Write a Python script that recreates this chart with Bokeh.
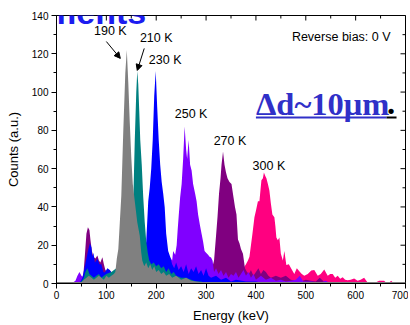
from bokeh.plotting import figure
from bokeh.models import SingleIntervalTicker, Label, Arrow, NormalHead, Range1d
from bokeh.embed import file_html
from bokeh.resources import INLINE
import math

# ---------------- data ----------------
E_190 = [40, 50, 55, 60, 65, 70, 75, 80, 85, 90, 95, 100, 105, 110, 115, 118, 121, 124, 127, 130, 134, 138, 141,
         144, 147, 150, 153, 157, 162, 167, 170, 172, 176, 180, 184, 188, 192, 196, 200, 205, 210, 215, 220, 226,
         232, 240, 250, 260, 270, 280, 295, 310]
C_190 = [0, 0.5, 2, 3, 4, 3, 2, 3, 4, 3, 2, 4, 3, 4, 5, 6, 13, 18, 32, 46, 80, 110, 122,
         105, 84, 66, 52, 43, 32, 25, 16, 12, 9, 11, 8, 10, 7, 9, 6, 7, 5, 6, 4, 5,
         3, 4, 2, 3, 1.5, 1, 0.5, 0]

E_210 = [40, 50, 55, 58, 62, 66, 70, 75, 80, 85, 90, 95, 100, 110, 120, 130, 140, 145, 150, 154, 157, 160, 162,
         164, 166, 168, 171, 174, 177, 180, 183, 186, 190, 195, 200, 205, 210, 215, 220, 225, 230, 235, 240,
         250, 260, 270, 280, 290, 300]
C_210 = [0, 1, 3, 6, 8, 5, 4, 3, 4, 5, 3, 4, 5, 6, 8, 10, 14, 20, 30, 43, 75, 100, 111,
         104, 90, 75, 62, 45, 32, 22, 16, 12, 10, 11, 9, 10, 8, 9, 6, 8, 5, 6, 4,
         3, 3, 2, 1, 1, 0]

E_230 = [40, 48, 52, 56, 60, 64, 67, 70, 72, 74, 77, 80, 82, 86, 90, 94, 97, 102, 107, 110, 115, 120, 130, 140,
         150, 160, 170, 176, 180, 184, 187, 190, 193, 196, 199, 202, 205, 208, 211, 214, 217, 220, 224, 228,
         232, 236, 240, 245, 250, 255, 260, 265, 270, 275, 280, 285, 290, 295, 300, 305, 310, 320, 330, 340,
         350, 360, 380, 400, 420]
C_230 = [0, 1, 3, 8, 13, 18, 21, 19, 14, 16, 11, 12, 13, 10, 10, 6, 5.7, 8, 7, 5.7, 6, 7, 8, 9,
         10, 10, 12, 15, 22, 43, 50, 60, 75, 98, 111, 92, 75, 62, 53, 47, 40, 26, 17, 14,
         10, 8, 11, 7, 9, 6, 10, 5, 8, 6, 9, 5, 7, 4, 8, 4, 3, 4, 2, 3,
         1, 2, 1, 1, 0]

E_250 = [30, 38, 42, 46, 50, 54, 60, 70, 80, 90, 100, 110, 120, 130, 140, 150, 160, 170, 180, 190, 200, 210,
         215, 220, 225, 228, 232, 234, 238, 241, 243, 245, 248, 251, 254, 257, 260, 262, 265, 268, 271, 274,
         278, 281, 284, 288, 291, 294, 297, 300, 304, 307, 310, 313, 316, 320, 325, 330, 335, 340, 345, 350,
         355, 360, 365, 370, 375, 380, 385, 390, 395, 400, 410, 420, 430, 440, 450, 460, 470, 480, 488, 495,
         510, 530, 540, 550]
C_250 = [0, 1.5, 4, 6, 4, 3, 5, 4, 5, 4, 6, 5, 6, 5, 6, 7, 6, 8, 7, 9, 8, 9,
         7, 10, 9, 13.7, 12, 17, 15, 20, 28, 35, 45, 52, 65, 82, 70, 65, 75, 62, 59, 52,
         47, 43, 36, 30, 26, 22, 17, 16, 15, 14, 13.6, 12, 6, 8, 5, 7, 4, 6, 3, 5,
         4, 6, 3, 5, 7, 4, 6, 3, 5, 2, 4, 2, 3, 1.5, 2, 1, 1.5, 2, 4, 1,
         1, 0.5, 1.5, 0]

E_270 = [30, 40, 50, 54, 57, 60, 63, 66, 68, 71, 74, 78, 82, 85, 88, 92, 95, 98, 102, 106, 110, 115, 120, 130,
         140, 150, 160, 170, 180, 190, 200, 210, 220, 230, 240, 250, 260, 270, 280, 290, 300, 306, 312, 316,
         320, 323, 326, 329, 331, 334, 337, 340, 343, 347, 351, 355, 358, 361, 364, 367, 370, 374, 378, 382,
         386, 390, 395, 400, 405, 410, 415, 420, 425, 430, 440, 450, 460, 470, 480, 490, 500, 510, 520, 528,
         536, 550, 560]
C_270 = [0, 0.5, 2, 5, 15, 26, 29.4, 28, 23, 17, 14, 13, 14.6, 12, 11, 13.7, 10, 7, 6, 7, 6, 4, 5, 4,
         5, 4, 5, 4, 5, 4, 5, 4, 5, 6, 5, 6, 5, 6, 5, 7, 6, 8, 8, 12,
         25, 35, 47, 55, 62, 69, 62, 58, 55, 53, 52, 45, 40, 36, 23, 21, 18, 15.6, 8, 6,
         5, 7, 4, 6, 8, 5, 7, 6, 4, 3, 4, 3, 4, 2, 1.5, 1, 2, 1.5, 1, 3,
         1, 0.5, 0]

E_300 = [40, 60, 80, 100, 120, 150, 200, 250, 300, 340, 360, 375, 380, 384, 387, 390, 393, 397, 400, 404, 407,
         411, 414, 416, 419, 421, 424, 427, 430, 433, 437, 439, 441, 444, 447, 450, 454, 457, 461, 466, 471,
         477, 482, 487, 492, 497, 504, 511, 517, 524, 530, 537, 544, 549, 554, 559, 564, 569, 574, 579, 584,
         590, 597, 604, 610, 617, 624, 632, 640, 647, 657, 662, 668, 671, 676, 690]
C_300 = [0, 2, 3, 2, 3, 2, 3, 2, 3, 4, 5, 8, 10, 12, 14, 20, 26, 34.6, 38, 43, 43,
         54, 55, 58, 56, 55, 52, 48.6, 41.8, 36, 34.6, 30, 24, 22.6, 24, 15.6, 12, 17, 9.6, 10, 7.7,
         5, 8, 6.4, 5, 4, 5, 6.8, 7, 4, 5, 7.3, 4, 5, 5, 3, 4, 2.5, 3.3, 2, 1.7,
         2, 2.6, 1.5, 2, 3, 0.5, 0.3, 0.5, 1.5, 1.5, 0.3, 0.5, 1.5, 0.3, 0]

# drawn back to front
SERIES = [
    (E_300, C_300, "#FF0080"),
    (E_270, C_270, "#800080"),
    (E_250, C_250, "#8000FF"),
    (E_230, C_230, "#0000FF"),
    (E_210, C_210, "#008080"),
    (E_190, C_190, "#808080"),
]

TEMP_LABELS = ["190 K", "210 K", "230 K", "250 K", "270 K", "300 K"]
TEMP_LABEL_X = [108, 200, 218, 270, 348, 426]
TEMP_LABEL_Y = [131.7, 128.5, 116.5, 88.3, 74.7, 61.6]

X_MAX = 700
Y_MAX = 140
X_MAJOR = 100
Y_MAJOR = 20

FONT = "Liberation Sans"

p = figure(width=408, height=325, x_range=Range1d(0, X_MAX), y_range=Range1d(0, Y_MAX),
           output_backend="svg", toolbar_location=None,
           min_border_left=56, min_border_right=3, min_border_top=15, min_border_bottom=42,
           x_axis_label="Energy (keV)", y_axis_label="Counts (a.u.)")
p.background_fill_color = "white"
p.border_fill_color = "white"
p.outline_line_color = "black"
p.grid.visible = False

for ax in (p.xaxis[0], p.yaxis[0]):
    ax.major_tick_out = 5
    ax.major_tick_in = 0
    ax.minor_tick_out = 3
    ax.minor_tick_in = 0
    ax.axis_line_color = "black"
    ax.major_tick_line_color = "black"
    ax.minor_tick_line_color = "black"
    ax.major_label_text_font = FONT
    ax.major_label_text_font_size = "10px"
    ax.major_label_text_color = "black"
    ax.axis_label_text_font = FONT
    ax.axis_label_text_font_size = "13px"
    ax.axis_label_text_font_style = "normal"
    ax.axis_label_text_color = "black"

p.xaxis[0].ticker = SingleIntervalTicker(interval=X_MAJOR, num_minor_ticks=2)
p.yaxis[0].ticker = SingleIntervalTicker(interval=Y_MAJOR, num_minor_ticks=2)
p.xaxis[0].major_label_standoff = 2
p.xaxis[0].axis_label_standoff = 6
p.yaxis[0].major_label_standoff = 3
p.yaxis[0].axis_label_standoff = 8

# spectra, back to front
for xs, ys, col in SERIES:
    p.varea(x=xs, y1=0, y2=ys, fill_color=col, fill_alpha=1.0)

# grey zero baseline (as in the original, it sits on the bottom axis)
p.line(x=[0, X_MAX], y=[0, 0], line_color="#808080", line_width=3)

# inward ticks on the top and right frame edges (half of each dash is clipped by the frame)
top_major = list(range(0, X_MAX + 1, X_MAJOR))
top_minor = list(range(X_MAJOR // 2, X_MAX, X_MAJOR))
right_major = list(range(0, Y_MAX + 1, Y_MAJOR))
right_minor = list(range(Y_MAJOR // 2, Y_MAX, Y_MAJOR))
p.scatter(x=top_major, y=[Y_MAX] * len(top_major), marker="dash", angle=math.pi / 2, size=10,
          line_color="black", line_width=1)
p.scatter(x=top_minor, y=[Y_MAX] * len(top_minor), marker="dash", angle=math.pi / 2, size=6,
          line_color="black", line_width=1)
p.scatter(x=[X_MAX] * len(right_major), y=right_major, marker="dash", size=10,
          line_color="black", line_width=1)
p.scatter(x=[X_MAX] * len(right_minor), y=right_minor, marker="dash", size=6,
          line_color="black", line_width=1)

for txt, lx, ly in zip(TEMP_LABELS, TEMP_LABEL_X, TEMP_LABEL_Y):
    p.add_layout(Label(x=lx, y=ly, text=txt, text_align="center", text_baseline="middle",
                       text_font=FONT, text_font_size="12.5px", text_color="black"))

p.add_layout(Arrow(end=NormalHead(size=6, fill_color="black", line_color="black"),
                   x_start=100, y_start=126.4, x_end=128, y_end=117.6, line_color="black", line_width=1))
p.add_layout(Arrow(end=NormalHead(size=6, fill_color="black", line_color="black"),
                   x_start=176, y_start=122.8, x_end=162, y_end=111.3, line_color="black", line_width=1))

p.add_layout(Label(x=670, y=129, text="Reverse bias: 0 V", text_align="right", text_baseline="middle",
                   text_font=FONT, text_font_size="12.5px", text_color="black"))

# thickness annotation
p.add_layout(Label(x=400, y=94, text="\u0394d~10\u03bcm", text_align="left", text_baseline="alphabetic",
                   text_font="Liberation Serif", text_font_style="bold", text_font_size="32.5px",
                   text_color="#3030C8"))
p.add_layout(Label(x=663, y=94, text=".", text_align="left", text_baseline="alphabetic",
                   text_font="Liberation Serif", text_font_style="bold", text_font_size="32.5px",
                   text_color="black"))
p.segment(x0=[400], y0=[86.7], x1=[662], y1=[86.7], line_color="#3030C8", line_width=2)
p.segment(x0=[662], y0=[86.7], x1=[682], y1=[86.7], line_color="black", line_width=2)

# cut-off slide heading at the very top
p.add_layout(Label(x=180, y=141.8, text="Requirements", text_align="right", text_baseline="alphabetic",
                   text_font=FONT, text_font_style="bold", text_font_size="34px", text_color="#1C1CF0"))

open("out.html", "w").write(file_html(p, INLINE))
